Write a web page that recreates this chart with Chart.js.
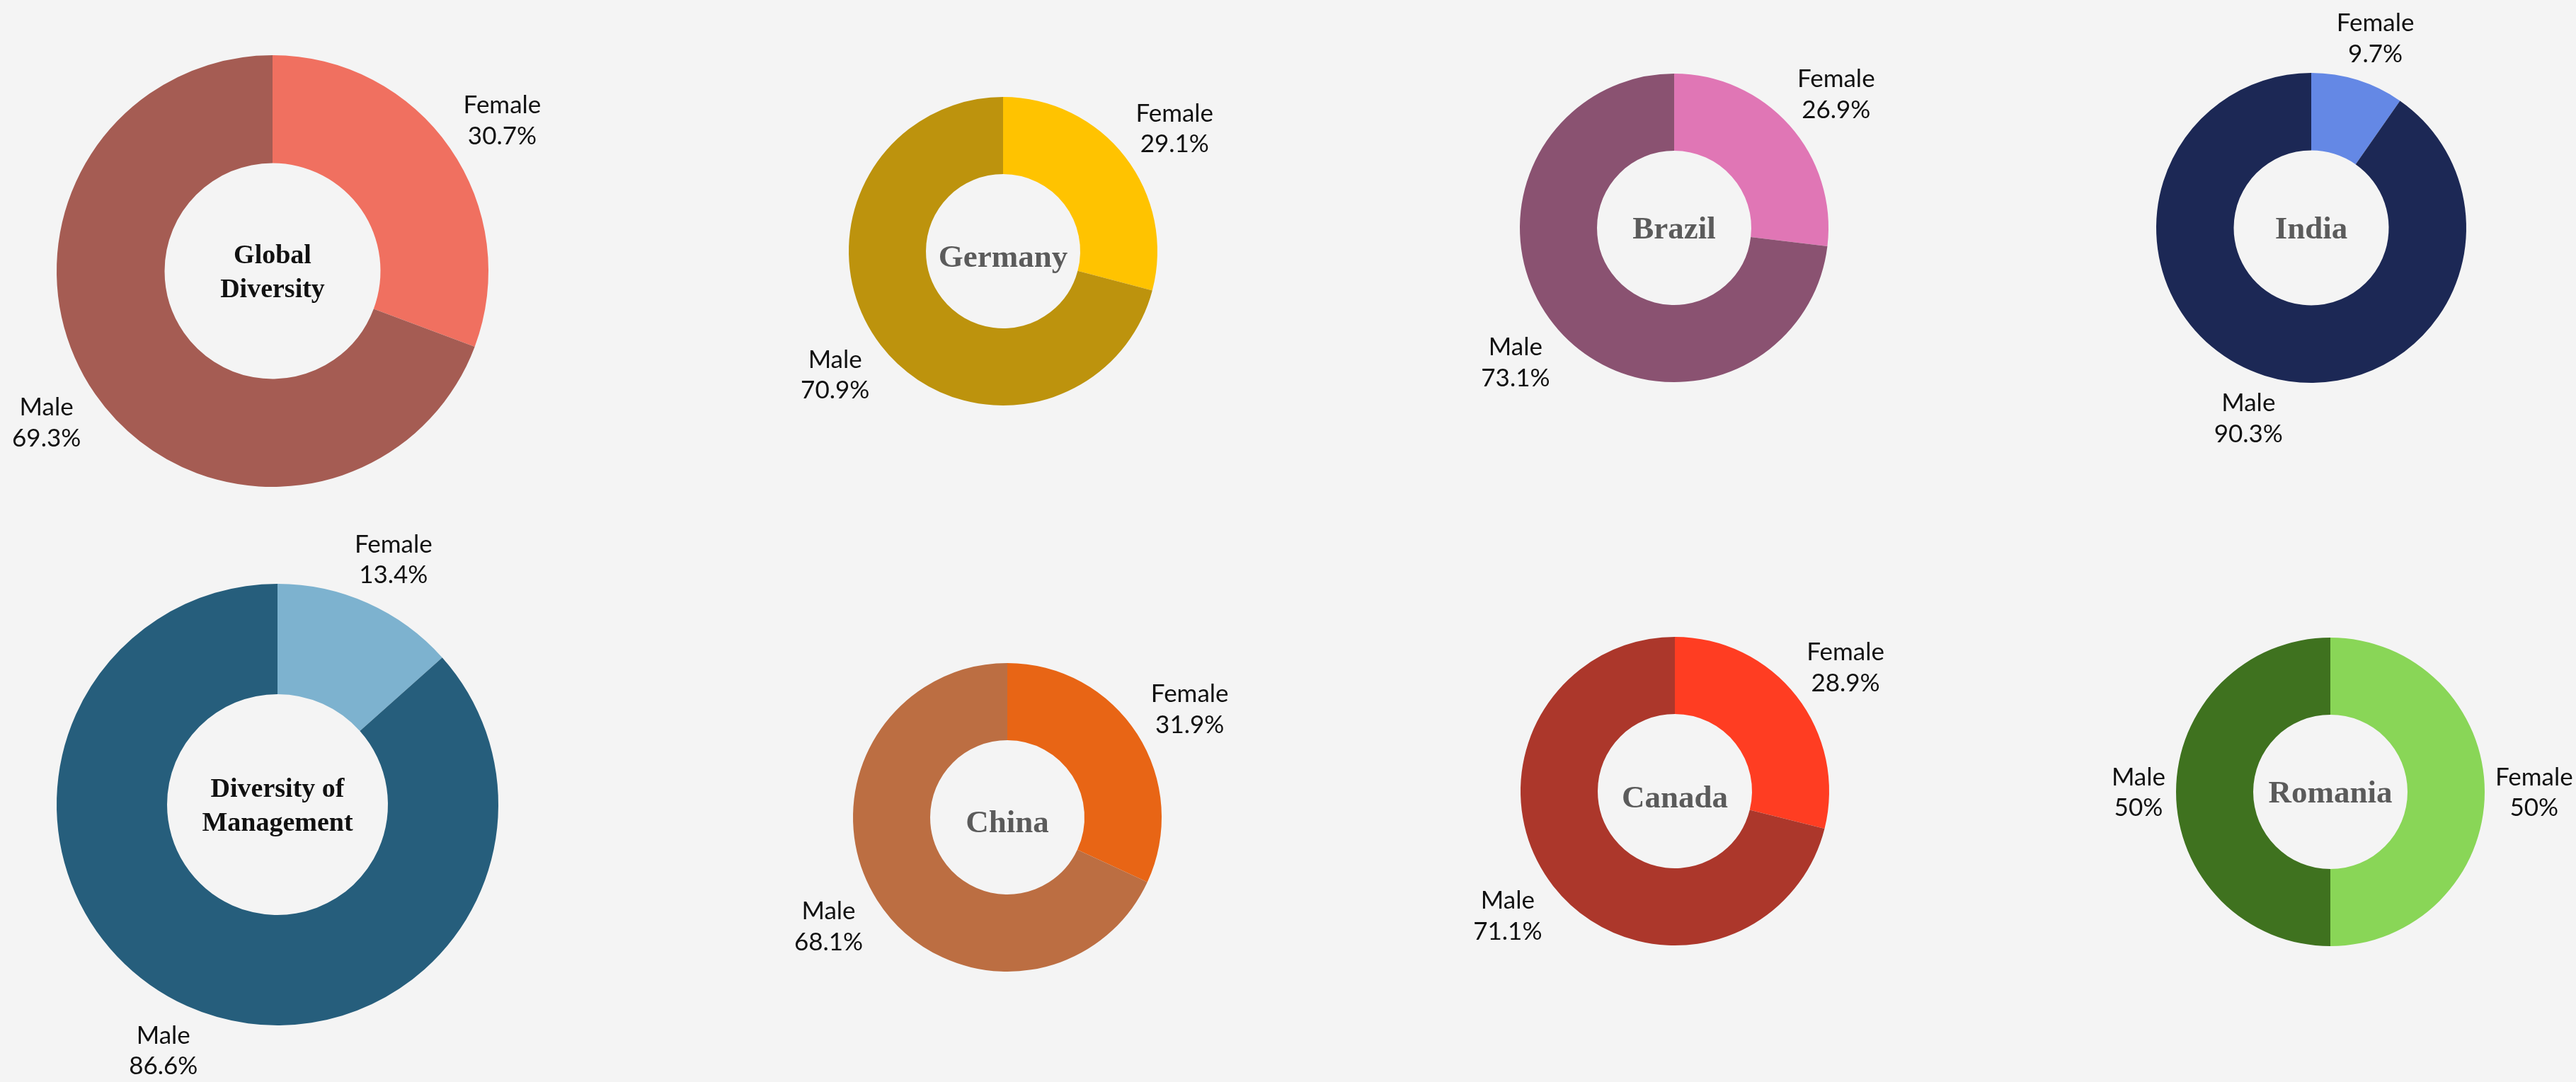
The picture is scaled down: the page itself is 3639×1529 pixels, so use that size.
<!DOCTYPE html>
<html>
<head>
<meta charset="utf-8">
<title>Gender Diversity</title>
<script src="https://cdn.jsdelivr.net/npm/chart.js@4.4.1/dist/chart.umd.min.js"></script>
<style>
    html, body {
        margin: 0;
        padding: 0;
        width: 3639px;
        height: 1529px;
        overflow: hidden;
        background: #f4f4f4;
    }
    canvas {
        position: absolute;
    }
</style>
</head>
<body>
<script>
// Datos
var categories = ['Female', 'Male'];
var chartTitles = [
    ['Global', 'Diversity'],
    ['Germany'],
    ['Brazil'],
    ['India'],
    ['Diversity of', 'Management'],
    ['China'],
    ['Canada'],
    ['Romania']
];
var femaleValues = [30.7, 29.1, 26.9, 9.7, 13.4, 31.9, 28.9, 50];
var maleValues = [69.3, 70.9, 73.1, 90.3, 86.6, 68.1, 71.1, 50];

// Colores por grafico: [female, male]
var sliceColors = [
    ['#f07060', '#a55c53'],
    ['#ffc300', '#bd930d'],
    ['#e076b5', '#8a5271'],
    ['#6488e5', '#1c2855'],
    ['#7db2cf', '#265e7c'],
    ['#e86515', '#bc6e42'],
    ['#ff3d22', '#ac372b'],
    ['#89d657', '#3f721f']
];

// Posicion de cada donut (centro y radio) y estilo del titulo
var layout = [
    { cx: 385,  cy: 383,  r: 305, titleSize: 38, titleColor: '#111111', titleDy: 0, labelGap: 35 },
    { cx: 1417, cy: 355,  r: 218, titleSize: 45, titleColor: '#5b5b5b', titleDy: 7, labelGap: 33 },
    { cx: 2365, cy: 322,  r: 218, titleSize: 45, titleColor: '#5b5b5b', titleDy: 0, labelGap: 33 },
    { cx: 3265, cy: 322,  r: 219, titleSize: 45, titleColor: '#5b5b5b', titleDy: 0, labelGap: 28 },
    { cx: 392,  cy: 1137, r: 312, titleSize: 38, titleColor: '#111111', titleDy: 0, labelGap: 34 },
    { cx: 1423, cy: 1155, r: 218, titleSize: 45, titleColor: '#5b5b5b', titleDy: 6, labelGap: 33 },
    { cx: 2366, cy: 1118, r: 218, titleSize: 45, titleColor: '#5b5b5b', titleDy: 8, labelGap: 33 },
    { cx: 3292, cy: 1119, r: 218, titleSize: 45, titleColor: '#5b5b5b', titleDy: 0, labelGap: 15 }
];

var PAD = 170;
var LABEL_FONT = '35px Lato';
var LABEL_LINE = 43.5;
var LABEL_CAP = 25;
var TITLE_LINE = 48;

function formatPct(v) {
    return v + '%';
}

// Etiquetas exteriores: categoria + porcentaje
var donutLabels = {
    id: 'donutLabels',
    afterDatasetsDraw: function(chart, args, opts) {
        var ctx = chart.ctx;
        var meta = chart.getDatasetMeta(0);
        var values = chart.data.datasets[0].data;
        var hh = (LABEL_LINE + LABEL_CAP) / 2;

        ctx.save();
        ctx.font = LABEL_FONT;
        ctx.fillStyle = '#111111';
        ctx.textAlign = 'center';
        ctx.textBaseline = 'alphabetic';

        meta.data.forEach(function(arc, i) {
            var p = arc.getProps(['x', 'y', 'startAngle', 'endAngle', 'outerRadius'], true);
            var mid = (p.startAngle + p.endAngle) / 2;
            var line1 = chart.data.labels[i];
            var line2 = formatPct(values[i]);
            var hw = Math.max(ctx.measureText(line1).width, ctx.measureText(line2).width) / 2;
            var dist = p.outerRadius + opts.gap;
            var bx = p.x + Math.cos(mid) * (dist + hw);
            var by = p.y + Math.sin(mid) * (dist + hh);

            ctx.fillText(line1, bx, by - (LABEL_LINE - LABEL_CAP) / 2);
            ctx.fillText(line2, bx, by + (LABEL_LINE + LABEL_CAP) / 2);
        });
        ctx.restore();
    }
};

// Titulo en el centro del donut
var centerTitle = {
    id: 'centerTitle',
    afterDraw: function(chart, args, opts) {
        var ctx = chart.ctx;
        var arc = chart.getDatasetMeta(0).data[0];
        if (!arc) {
            return;
        }
        var lines = opts.lines || [];
        var capH = opts.size * 0.66;
        var n = lines.length;

        ctx.save();
        ctx.font = 'bold ' + opts.size + 'px "Liberation Serif"';
        ctx.fillStyle = opts.color;
        ctx.textAlign = 'center';
        ctx.textBaseline = 'alphabetic';
        lines.forEach(function(line, i) {
            var y = arc.y + opts.dy + capH / 2 + (i - (n - 1) / 2) * TITLE_LINE;
            ctx.fillText(line, arc.x, y);
        });
        ctx.restore();
    }
};

layout.forEach(function(pos, k) {
    var size = 2 * (pos.r + PAD);
    var canvas = document.createElement('canvas');
    canvas.width = size;
    canvas.height = size;
    canvas.style.width = size + 'px';
    canvas.style.height = size + 'px';
    canvas.style.left = (pos.cx - pos.r - PAD) + 'px';
    canvas.style.top = (pos.cy - pos.r - PAD) + 'px';
    document.body.appendChild(canvas);

    new Chart(canvas.getContext('2d'), {
        type: 'doughnut',
        data: {
            labels: categories,
            datasets: [{
                data: [femaleValues[k], maleValues[k]],
                backgroundColor: sliceColors[k],
                borderWidth: 0,
                hoverBorderWidth: 0,
                hoverOffset: 0,
                offset: 0
            }]
        },
        options: {
            responsive: false,
            devicePixelRatio: 1,
            animation: false,
            cutout: '50%',
            spacing: 0,
            layout: {
                padding: PAD
            },
            plugins: {
                legend: { display: false },
                tooltip: { enabled: false },
                donutLabels: {
                    gap: pos.labelGap
                },
                centerTitle: {
                    lines: chartTitles[k],
                    size: pos.titleSize,
                    color: pos.titleColor,
                    dy: pos.titleDy
                }
            }
        },
        plugins: [donutLabels, centerTitle]
    });
});
</script>
</body>
</html>
